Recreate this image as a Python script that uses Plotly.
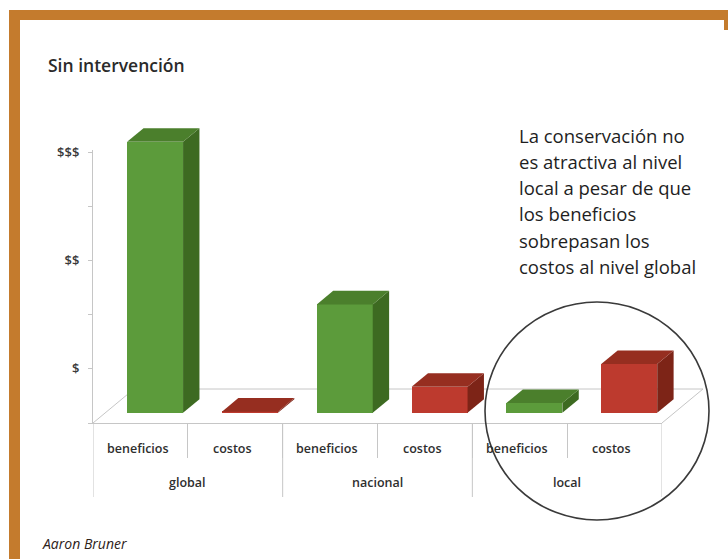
import plotly.graph_objects as go

# ---------------- data ----------------
groups = ["global", "nacional", "local"]
kinds = ["beneficios", "costos", "beneficios", "costos", "beneficios", "costos"]
values = [5.0, 0.02, 2.0, 0.48, 0.18, 0.9]          # in "$" axis units (tick spacing)
tick_vals = [0, 1, 2, 3, 4, 5]
tick_text = ["", "$", "", "$$", "", "$$$"]
title_text = "Sin intervención"
note_lines = ["La conservación no", "es atractiva al nivel", "local a pesar de que",
              "los beneficios", "sobrepasan los", "costos al nivel global"]
credit_text = "Aaron Bruner"

# ---------------- geometry / style ----------------
W, H = 728, 559
ML, MR, MT, MB = 93, 5, 100, 20
PW, PH = W - ML - MR, H - MT - MB
PX_X = 94.83      # px per category
PX_Y = 54.2       # px per value unit
Y0_PX = 423       # front edge of floor (px)
DX, DY = 41 / PX_X, 34 / PX_Y   # floor depth vector in data units
F0, F1 = 0.3, 0.7               # bar depth span (fraction of floor depth)
BW = 0.59
XSHIFT = 0.025
FONT = "Open Sans"

def pxx(px):
    return (px - ML) / PW

def pxy(py):
    return (H - MB - py) / PH

colors = {
    "beneficios": dict(front="#5c9b3b", top="#4b7f2c", side="#3d6a21"),
    "costos": dict(front="#bd3a2e", top="#962e20", side="#7d2417"),
}

fig = go.Figure()

base = F0 * DY
bdx, bdy = (F1 - F0) * DX, (F1 - F0) * DY
for i, (k, v) in enumerate(zip(kinds, values)):
    c = colors[k]
    xc = i + F0 * DX + XSHIFT
    xl, xr = xc - BW / 2, xc + BW / 2
    yt = base + v
    fig.add_trace(go.Bar(x=[xc], y=[v], base=[base], width=[BW],
                         marker=dict(color=c["front"], line=dict(width=0)),
                         showlegend=False, hoverinfo="skip"))
    fig.add_trace(go.Scatter(x=[xr, xr, xr + bdx, xr + bdx, xr],
                             y=[base, yt, yt + bdy, base + bdy, base],
                             fill="toself", fillcolor=c["side"], mode="lines",
                             line=dict(width=0, color=c["side"]),
                             showlegend=False, hoverinfo="skip"))
    fig.add_trace(go.Scatter(x=[xl, xr, xr + bdx, xl + bdx, xl],
                             y=[yt, yt, yt + bdy, yt + bdy, yt],
                             fill="toself", fillcolor=c["top"], mode="lines",
                             line=dict(width=0, color=c["top"]),
                             showlegend=False, hoverinfo="skip"))

# carrier for the front-plane axes
fig.add_trace(go.Scatter(x=list(range(len(kinds))), y=[0] * len(kinds), mode="markers",
                         marker=dict(opacity=0), xaxis="x2", yaxis="y2",
                         showlegend=False, hoverinfo="skip"))

grid = "#c6c6c6"
shapes = [
    dict(type="path", xref="x", yref="y", layer="below",
         path=f"M -0.5,0 L {-0.5 + DX},{DY} L {5.5 + DX},{DY} L 5.5,0",
         line=dict(color=grid, width=1)),
]
n_per = len(kinds) // len(groups)
for g in range(len(groups) + 1):
    shapes.append(dict(type="line", xref="x2", yref="paper",
                       x0=g * n_per - 0.5, x1=g * n_per - 0.5,
                       y0=pxy(Y0_PX), y1=pxy(497), line=dict(color=grid, width=1)))
shapes += [
    dict(type="circle", xref="paper", yref="paper",
         x0=pxx(485), x1=pxx(709), y0=pxy(520), y1=pxy(302),
         line=dict(color="#3a3a3a", width=1.6), layer="above"),
    dict(type="rect", xref="paper", yref="paper", x0=pxx(9), x1=pxx(20),
         y0=pxy(559), y1=pxy(10), fillcolor="#c47b2d", line=dict(width=0)),
    dict(type="rect", xref="paper", yref="paper", x0=pxx(9), x1=pxx(728),
         y0=pxy(20), y1=pxy(10), fillcolor="#c47b2d", line=dict(width=0)),
    dict(type="rect", xref="paper", yref="paper", x0=pxx(724), x1=pxx(728),
         y0=pxy(30), y1=pxy(20), fillcolor="#c47b2d", line=dict(width=0)),
]

lab_font = dict(family=FONT, size=12.5, color="#2e2e2e", weight=600)
annotations = [
    dict(text=title_text, xref="paper", yref="paper", x=pxx(46), y=pxy(65),
         xanchor="left", yanchor="middle", showarrow=False,
         font=dict(family=FONT, size=17.5, color="#2a2a2a", weight=600)),
    dict(text=credit_text, xref="paper", yref="paper", x=pxx(40), y=pxy(543),
         xanchor="left", yanchor="middle", showarrow=False,
         font=dict(family=FONT, size=14, color="#2d2219", style="italic")),
]
for i, k in enumerate(kinds):
    annotations.append(dict(text=k, xref="x2", yref="paper", x=i - 0.03, y=pxy(448),
                            xanchor="center", yanchor="middle", showarrow=False,
                            font=lab_font))
for g, name in enumerate(groups):
    annotations.append(dict(text=name, xref="x2", yref="paper",
                            x=g * n_per + (n_per - 1) / 2, y=pxy(482),
                            xanchor="center", yanchor="middle", showarrow=False,
                            font=lab_font))
for j, line in enumerate(note_lines):
    annotations.append(dict(text=line, xref="paper", yref="paper", x=pxx(517),
                            y=pxy(135 + 26.3 * j), xanchor="left", yanchor="middle",
                            showarrow=False,
                            font=dict(family=FONT, size=18.5, color="#1e1e1e", weight=500)))

fig.update_layout(
    width=W, height=H, margin=dict(l=ML, r=MR, t=MT, b=MB),
    paper_bgcolor="white", plot_bgcolor="rgba(0,0,0,0)",
    bargap=0, barmode="overlay",
    xaxis=dict(domain=[0, 1], range=[-0.5, -0.5 + PW / PX_X], visible=False,
               fixedrange=True),
    yaxis=dict(domain=[0, 1], range=[-(H - MB - Y0_PX) / PX_Y, (Y0_PX - MT) / PX_Y],
               visible=False, fixedrange=True),
    xaxis2=dict(domain=[0, pxx(662)], anchor="y2", range=[-0.5, len(kinds) - 0.5],
                showline=True, linecolor=grid, linewidth=1,
                tickmode="array", tickvals=[i + 0.5 for i in range(len(kinds) - 1)],
                ticks="outside", ticklen=34, tickcolor=grid, showticklabels=False,
                showgrid=False, zeroline=False, fixedrange=True),
    yaxis2=dict(domain=[pxy(Y0_PX), pxy(150)], anchor="x2",
                range=[0, (Y0_PX - 150) / PX_Y],
                tickmode="array", tickvals=tick_vals, ticktext=tick_text,
                ticks="outside", ticklen=4, tickcolor=grid,
                showline=True, linecolor=grid, linewidth=1,
                showgrid=False, zeroline=False, fixedrange=True,
                ticklabelstandoff=6,
                tickfont=dict(family=FONT, size=13, color="#3a3a3a", weight=600)),
    shapes=shapes, annotations=annotations,
)

fig.write_html("out.html", config={"displayModeBar": False},
               post_script="document.body.style.margin='0';")
